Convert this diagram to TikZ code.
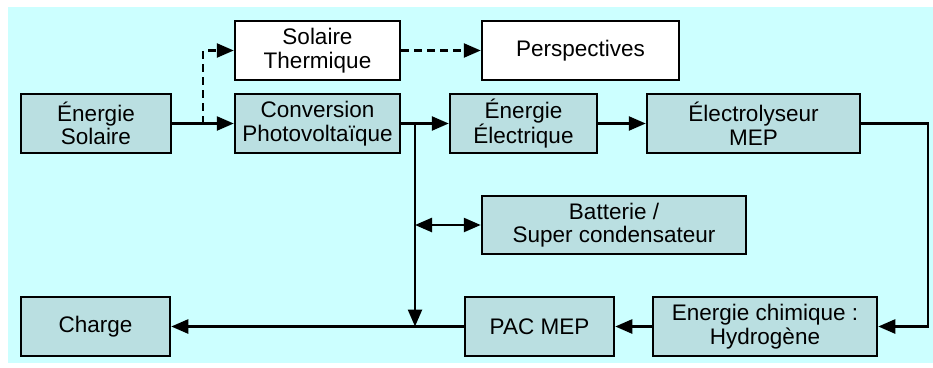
\documentclass[tikz,border=0pt]{standalone}
\usepackage{fontspec}
\setmainfont{Liberation Sans}
\usepackage{tikz}
\usetikzlibrary{arrows.meta, positioning}
\usepackage{xcolor}
\definecolor{SkyBack}{HTML}{CCFFFF}
\definecolor{BoxTeal}{HTML}{BADFE1}

\begin{document}
\begin{tikzpicture}[
    x=1pt, y=-1pt,
    box/.style={rectangle, draw=black, line width=2.5pt, fill=BoxTeal,
                minimum height=59pt, align=center, inner sep=2pt,
                font=\fontsize{22.5}{23.5}\selectfont},
    openbox/.style={box, fill=white},
    arrow/.style={-{Triangle[length=17pt, width=14pt]}, line width=2.5pt},
    dasharrow/.style={arrow, dash pattern=on 8pt off 5pt},
    duoarrow/.style={{Triangle[length=17pt, width=14pt]}-{Triangle[length=17pt, width=14pt]}, line width=2.5pt}
]
    \useasboundingbox (0,0) rectangle (933,367);
    \fill[SkyBack] (8,7) rectangle (933,363);
    % upper rows
    \node[box, minimum width=150pt] (sol) at (96,123.5) {Énergie\\Solaire};
    \node[openbox, minimum width=165pt] (therm) at (317.5,50.5) {Solaire\\Thermique};
    \node[box, minimum width=165pt] (pv) at (317.5,123.5) {Conversion\\Photovoltaïque};
    \node[openbox, minimum width=197pt] (persp) at (580.5,50.5) {Perspectives};
    \node[box, minimum width=147pt] (elec) at (523.5,123.5) {Énergie\\Électrique};
    \node[box, minimum width=213pt] (ely) at (753.5,123.5) {Électrolyseur\\MEP};
    % storage and load
    \node[box, minimum width=264pt, minimum height=58pt] (batt) at (614,225) {Batterie /\\Super condensateur};
    \node[box, minimum width=149pt] (charge) at (95.5,326.5) {Charge};
    \node[box, minimum width=149pt] (pac) at (539.5,326.5) {PAC MEP};
    \node[box, minimum width=224pt] (h2) at (765,326.5) {Energie chimique :\\Hydrogène};
    % junctions
    \coordinate (jth) at (203,123.5);
    \coordinate (jpv) at (415,123.5);
    \coordinate (jbat) at (415,225);
    \coordinate (jload) at (415,326.5);
    \coordinate (rc) at (928,123.5);
    \draw[arrow] (sol) -- (pv);
    \draw[dasharrow] (jth) |- (therm.west);
    \draw[dasharrow] (therm) -- (persp);
    \draw[arrow] (pv) -- (elec);
    \draw[arrow] (elec) -- (ely);
    \draw[arrow] (ely.east) -- (rc) |- (h2.east);
    \draw[arrow] (h2) -- (pac);
    \draw[arrow] (pac) -- (charge);
    \draw[arrow] (jpv) -- (jload);
    \draw[duoarrow] (jbat) -- (batt.west);
\end{tikzpicture}
\end{document}
